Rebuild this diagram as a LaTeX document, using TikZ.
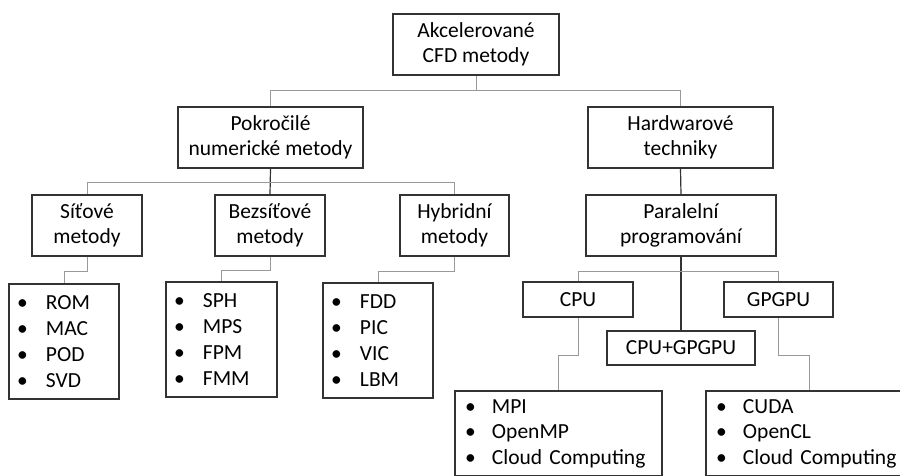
\documentclass[tikz,border=0pt]{standalone}
\usepackage{fontspec}
\setmainfont{Carlito}
\usetikzlibrary{calc}
\tikzset{
  box/.style={draw=black!80, line width=1.3pt, fill=white, inner sep=0pt, align=center,
    font=\fontsize{21.5}{25.5}\selectfont},
  lst/.style={box, align=left, inner ysep=0pt},
  conn/.style={draw=black!40, line width=1pt},
  dconn/.style={draw=black!80, line width=1.2pt},
}
\newcommand{\bit}[2]{\makebox[#1][l]{\textbullet}#2}
\begin{document}
\begin{tikzpicture}[x=1pt,y=-1pt]
\useasboundingbox (0,0) rectangle (900,475);
\clip (0,0) rectangle (900,475);
\fill[white] (0,0) rectangle (900,475);
% coordinates of junctions
\coordinate (j1) at (476,90);
\coordinate (j2) at (270,182);
\coordinate (j3) at (681,271);
% connectors first (drawn under boxes)
\node[box, minimum width=166pt, minimum height=61pt] (top) at (476,44.5) {Akcelerované\\CFD metody};
\node[box, minimum width=185pt, minimum height=61pt] (pok) at (270.5,137.5) {Pokročilé\\numerické metody};
\node[box, minimum width=185pt, minimum height=61pt] (hw) at (680.5,137.5) {Hardwarové\\techniky};
\node[box, minimum width=110pt, minimum height=61pt] (sit) at (87,225.5) {Síťové\\metody};
\node[box, minimum width=110pt, minimum height=61pt] (bez) at (270,225.5) {Bezsíťové\\metody};
\node[box, minimum width=109pt, minimum height=61pt] (hyb) at (454.5,225.5) {Hybridní\\metody};
\node[box, minimum width=190pt, minimum height=61pt] (par) at (681,225.5) {Paralelní\\programování};
\node[box, minimum width=110pt, minimum height=35pt] (cpu) at (578,299.5) {CPU};
\node[box, minimum width=109pt, minimum height=35pt] (gp) at (778.5,299.5) {GPGPU};
\node[box, minimum width=148pt, minimum height=34pt] (cg) at (681,348) {CPU+GPGPU};
\node[lst, inner xsep=8pt, text width=94pt, minimum height=115pt, font=\fontsize{21.5}{26}\selectfont] (l1) at (64,341.5)
  {\bit{29pt}{ROM}\\\bit{29pt}{MAC}\\\bit{29pt}{POD}\\\bit{29pt}{SVD}};
\node[lst, inner xsep=8pt, text width=95pt, minimum height=115pt, font=\fontsize{21.5}{26}\selectfont] (l2) at (221.5,339.5)
  {\bit{29pt}{SPH}\\\bit{29pt}{MPS}\\\bit{29pt}{FPM}\\\bit{29pt}{FMM}};
\node[lst, inner xsep=8pt, text width=94pt, minimum height=115pt, font=\fontsize{21.5}{26}\selectfont] (l3) at (378,340.5)
  {\bit{29pt}{FDD}\\\bit{29pt}{PIC}\\\bit{29pt}{VIC}\\\bit{29pt}{LBM}};
\node[lst, inner xsep=10pt, text width=187pt, minimum height=85pt] (l4) at (558.5,433.5)
  {\bit{27pt}{MPI}\\\bit{27pt}{OpenMP}\\\bit{27pt}{Cloud Computing}};
\node[lst, inner xsep=10pt, text width=186pt, minimum height=85pt] (l5) at (809,433.5)
  {\bit{27pt}{CUDA}\\\bit{27pt}{OpenCL}\\\bit{27pt}{Cloud Computing}};
% connectors
\draw[conn] (top.south) -- (j1);
\draw[conn] (pok.north) |- (j1);
\draw[conn] (hw.north) |- (j1);
\draw[dconn] (pok.south) -- (bez.north);
\draw[conn] (sit.north) |- (j2);
\draw[conn] (hyb.north) |- (j2);
\draw[dconn] (hw.south) -- (par.north);
\draw[dconn] (par.south) -- (cg.north);
\draw[conn] (cpu.north) |- (j3);
\draw[conn] (gp.north) |- (j3);
\draw[conn] (sit.south) -- ++(0,15) -| (l1.north);
\draw[conn] (bez.south) -- ++(0,14) -| (l2.north);
\draw[conn] (hyb.south) -- ++(0,15) -| (l3.north);
\draw[conn] (cpu.south) -- ++(0,38) -| (l4.north);
\draw[conn] (gp.south) -- ++(0,38) -| (l5.north);
\end{tikzpicture}
\end{document}
